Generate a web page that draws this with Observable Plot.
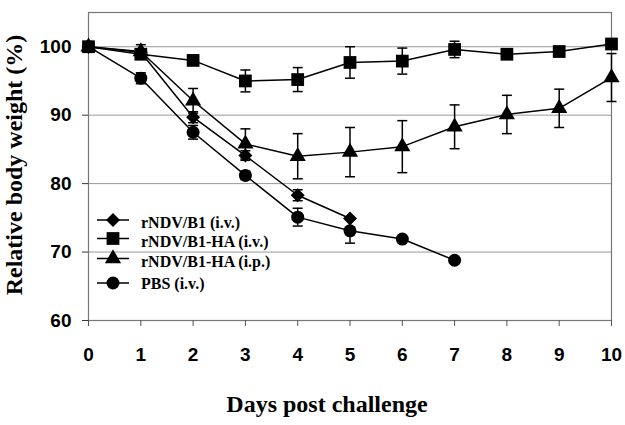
<!DOCTYPE html>
<html><head><meta charset="utf-8">
<script src="https://cdn.jsdelivr.net/npm/d3@7"></script>
<script src="https://cdn.jsdelivr.net/npm/@observablehq/plot@0.6"></script>
<style>body{margin:0;background:#fff}</style>
</head><body><div id="chart"></div>
<script>
const days = [0, 1, 2, 3, 4, 5, 6, 7, 8, 9, 10];
const yTicks = [60, 70, 80, 90, 100];
const seriesNames = ["rNDV/B1 (i.v.)", "rNDV/B1-HA (i.v.)", "rNDV/B1-HA (i.p.)", "PBS (i.v.)"];

const b1Values = [100, 99.2, 89.7, 84.1, 78.3, 74.9];
const b1Errors = [0, 0.5, 0.8, 0.7, 0.8, 0];

const haIvValues = [100, 98.9, 98.0, 95.0, 95.2, 97.7, 97.9, 99.6, 98.9, 99.3, 100.4];
const haIvErrors = [0, 0.6, 0.3, 1.6, 1.75, 2.3, 1.9, 1.2, 0.3, 0.3, 0.3];

const haIpValues = [100, 99.3, 92.1, 85.8, 84.0, 84.6, 85.4, 88.3, 90.1, 91.0, 95.5];
const haIpErrors = [0, 1.0, 1.8, 2.2, 3.3, 3.6, 3.8, 3.2, 2.8, 2.8, 3.5];

const pbsValues = [100, 95.4, 87.5, 81.2, 75.1, 73.1, 71.9, 68.8];
const pbsErrors = [0, 0.8, 1.0, 0.6, 1.3, 1.8, 0.3, 0.3];

const symbols = ["diamond2", "square", "triangle", "circle"];
const radii = [6.3, 7.2, 6.0, 6.5];

const valueSets = [b1Values, haIvValues, haIpValues, pbsValues];
const errorSets = [b1Errors, haIvErrors, haIpErrors, pbsErrors];

const rows = [];
valueSets.forEach((vals, i) => {
  vals.forEach((v, j) => rows.push({series: seriesNames[i], idx: i, day: days[j], value: v, err: errorSets[i][j]}));
});

const cap = {draw(context, size) { const w = Math.sqrt(size / Math.PI); context.moveTo(-w, 0); context.lineTo(w, 0); }};

const dotMarks = seriesNames.map((s, i) =>
  Plot.dot(rows.filter(d => d.idx === i), {x: "day", y: "value", symbol: symbols[i], r: radii[i], fill: "black", stroke: "none"})
);
const lineMarks = seriesNames.map((s, i) =>
  Plot.line(rows.filter(d => d.idx === i), {x: "day", y: "value", stroke: "black", strokeWidth: 1.5})
);
const errRows = rows.filter(d => d.err > 0);

const plot = Plot.plot({
  width: 625,
  height: 425,
  marginLeft: 88,
  marginRight: 14,
  marginTop: 12,
  marginBottom: 105,
  style: {fontFamily: "'Liberation Sans', Arial, sans-serif", background: "#fff", overflow: "visible"},
  x: {domain: [0, 10]},
  y: {domain: [60, 105]},
  marks: [
    Plot.gridY([70, 80, 90, 100], {stroke: "#999", strokeOpacity: 1, strokeWidth: 1}),
    Plot.frame({stroke: "#777", strokeWidth: 1.2}),
    Plot.axisY(yTicks, {tickSize: 6, tickPadding: 11, fontSize: 19, fontWeight: "bold", label: null, stroke: "#333"}),
    Plot.axisX(days, {tickSize: 6, tickPadding: 21, fontSize: 19, fontWeight: "bold", label: null, stroke: "#555", tickFormat: d => String(d)}),
    ...lineMarks,
    Plot.ruleX(errRows, {x: "day", y1: d => d.value - d.err, y2: d => d.value + d.err, stroke: "black", strokeWidth: 1.5}),
    Plot.dot(errRows, {x: "day", y: d => d.value + d.err, symbol: cap, r: 5, stroke: "black", strokeWidth: 1.5}),
    Plot.dot(errRows, {x: "day", y: d => d.value - d.err, symbol: cap, r: 5, stroke: "black", strokeWidth: 1.5}),
    ...dotMarks
  ]
});

document.getElementById("chart").appendChild(plot);

const svg = d3.select(plot);
// axis titles
svg.append("text")
  .attr("transform", "translate(22,165) rotate(-90)")
  .attr("text-anchor", "middle")
  .attr("font-family", "'Liberation Serif', 'Times New Roman', serif")
  .attr("font-weight", "bold")
  .attr("font-size", 24)
  .attr("fill", "black")
  .text("Relative body weight (%)");
svg.append("text")
  .attr("x", 327).attr("y", 412)
  .attr("text-anchor", "middle")
  .attr("font-family", "'Liberation Serif', 'Times New Roman', serif")
  .attr("font-weight", "bold")
  .attr("font-size", 24)
  .attr("fill", "black")
  .text("Days post challenge");

// legend
const legendLineY = [220, 238.5, 258.5, 283];
const legendTextY = [228, 247, 267, 289];
const leg = svg.append("g").attr("text-anchor", "start");
seriesNames.forEach((name, i) => {
  leg.append("line").attr("x1", 97).attr("x2", 129).attr("y1", legendLineY[i]).attr("y2", legendLineY[i])
    .attr("stroke", "black").attr("stroke-width", 1.5);
  const symType = {diamond2: d3.symbolDiamond2, square: d3.symbolSquare, triangle: d3.symbolTriangle, circle: d3.symbolCircle}[symbols[i]];
  leg.append("path").attr("d", d3.symbol(symType, radii[i] * radii[i] * Math.PI)())
    .attr("transform", `translate(113,${legendLineY[i]})`).attr("fill", "black");
  leg.append("text").attr("x", 141).attr("y", legendTextY[i])
    .attr("text-anchor", "start")
    .attr("font-family", "'Liberation Serif', 'Times New Roman', serif")
    .attr("font-weight", "bold").attr("font-size", 16).attr("fill", "black")
    .text(name);
});
</script>
</body></html>
